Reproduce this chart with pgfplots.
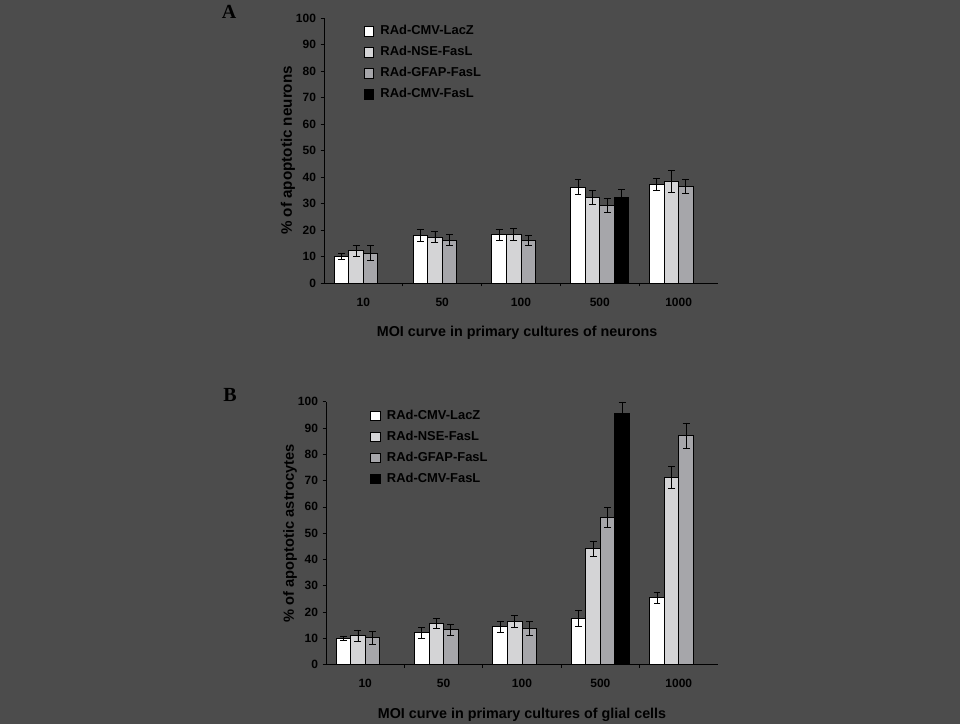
\documentclass[border=0pt]{standalone}
\usepackage{pgfplots}
\pgfplotsset{compat=1.18}
\usepackage{fontspec}
\setmainfont{Liberation Sans}
\newfontfamily\timesf{Liberation Serif}
\definecolor{bg}{RGB}{76,76,76}
\definecolor{nse}{RGB}{212,212,214}
\definecolor{gfap}{RGB}{166,166,170}
\pgfplotsset{
  sqlegend/.style={legend image code/.code={\draw[##1,line width=0.6pt,draw=black] (0pt,-3.5pt) rectangle (7pt,3.5pt);}},
  errs/.style={
    error bars/y dir=both, error bars/y explicit,
    error bars/error bar style={line width=0.6pt, black},
    error bars/error mark options={rotate=90, mark size=2.6pt, line width=0.6pt, black}},
  panel/.style={
    scale only axis,
    xmin=-0.5, xmax=4.5, ymin=0, ymax=100,
    axis x line*=bottom, axis y line*=left,
    axis line style={line width=0.6pt},
    ybar=0pt, bar width=10.9pt,
    xtick={0.5,1.5,2.5,3.5}, xticklabels={},
    extra x ticks={0,1,2,3,4},
    extra x tick labels={10,50,100,500,1000},
    extra x tick style={tick style={draw=none}},
    xticklabel style={yshift=-5pt},
    ytick={0,10,...,100},
    tick align=outside, major tick length=2.5pt,
    tick style={line width=0.5pt, black},
    /pgf/number format/assume math mode=true,
    tick label style={font=\fontsize{9}{10}\selectfont\bfseries},
    legend cell align=left,
    legend style={draw=none, fill=none, inner sep=0pt, anchor=north west,
      font=\fontsize{9.7}{11.4}\selectfont\bfseries, row sep=4.75pt,
      nodes={inner sep=1pt, text height=7pt, text depth=2pt},
      /tikz/every odd column/.append style={column sep=4pt}},
    every axis plot/.append style={draw=black, line width=0.7pt},
  }
}
\begin{document}
\begin{tikzpicture}
\fill[bg] (0,0) rectangle (720pt,543pt);
\useasboundingbox (0,0) rectangle (720pt,543pt);
\node[font=\timesf\bfseries\fontsize{15}{15}\selectfont] at (171.75pt,534pt) {A};
\node[font=\timesf\bfseries\fontsize{15}{15}\selectfont] at (172.5pt,247pt) {B};

% Panel A
\begin{axis}[panel, at={(243pt,330.75pt)}, anchor=south west,
  width=295.5pt, height=198.75pt,
  xlabel={MOI curve in primary cultures of neurons},
  ylabel={\% of apoptotic neurons},
  every axis x label/.style={at={(axis description cs:0.49,-0.1887)},anchor=center,font=\fontsize{10.75}{13}\selectfont\bfseries},
  every axis y label/.style={at={(axis description cs:-0.0914,0.5)},rotate=90,anchor=center,font=\fontsize{11.4}{13}\selectfont\bfseries},
  legend style={at={(axis description cs:0.10,0.978)}}]
\addplot[fill=white, sqlegend, errs] coordinates {
  (0,10.0) +- (0,1.25) (1,18.0) +- (0,2.2) (2,18.2) +- (0,2.2) (3,36.2) +- (0,2.9) (4,37.2) +- (0,2.1)};
\addplot[fill=nse, sqlegend, errs] coordinates {
  (0,12.1) +- (0,1.9) (1,17.3) +- (0,2.1) (2,18.4) +- (0,2.3) (3,32.2) +- (0,2.6) (4,38.2) +- (0,4.1)};
\addplot[fill=gfap, sqlegend, errs] coordinates {
  (0,11.3) +- (0,2.75) (1,16.2) +- (0,2.1) (2,16.2) +- (0,1.9) (3,29.3) +- (0,2.75) (4,36.5) +- (0,2.7)};
\addplot[fill=black, sqlegend, errs] coordinates {
  (3,32.2) +- (0,3.0)};
\legend{RAd-CMV-LacZ, RAd-NSE-FasL, RAd-GFAP-FasL, RAd-CMV-FasL}
\end{axis}

% Panel B
\begin{axis}[panel, at={(244.5pt,44.5pt)}, anchor=south west,
  width=294pt, height=197.25pt,
  xlabel={MOI curve in primary cultures of glial cells},
  ylabel={\% of apoptotic astrocytes},
  every axis x label/.style={at={(axis description cs:0.5,-0.19)},anchor=center,font=\fontsize{10.75}{13}\selectfont\bfseries},
  every axis y label/.style={at={(axis description cs:-0.0918,0.5)},rotate=90,anchor=center,font=\fontsize{11}{13}\selectfont\bfseries},
  legend style={at={(axis description cs:0.112,0.975)}}]
\addplot[fill=white, sqlegend, errs] coordinates {
  (0,10.0) +- (0,0.9) (1,12.2) +- (0,2.1) (2,14.4) +- (0,1.95) (3,17.7) +- (0,3.0) (4,25.4) +- (0,2.0)};
\addplot[fill=nse, sqlegend, errs] coordinates {
  (0,11.0) +- (0,2.2) (1,15.6) +- (0,1.9) (2,16.3) +- (0,2.3) (3,44.0) +- (0,2.7) (4,71.3) +- (0,4.2)};
\addplot[fill=gfap, sqlegend, errs] coordinates {
  (0,10.2) +- (0,2.5) (1,13.3) +- (0,2.0) (2,13.7) +- (0,2.7) (3,56.0) +- (0,3.7) (4,87.0) +- (0,4.9)};
\addplot[fill=black, sqlegend, errs] coordinates {
  (3,95.7) +- (0,4.2)};
\legend{RAd-CMV-LacZ, RAd-NSE-FasL, RAd-GFAP-FasL, RAd-CMV-FasL}
\end{axis}
\end{tikzpicture}
\end{document}
